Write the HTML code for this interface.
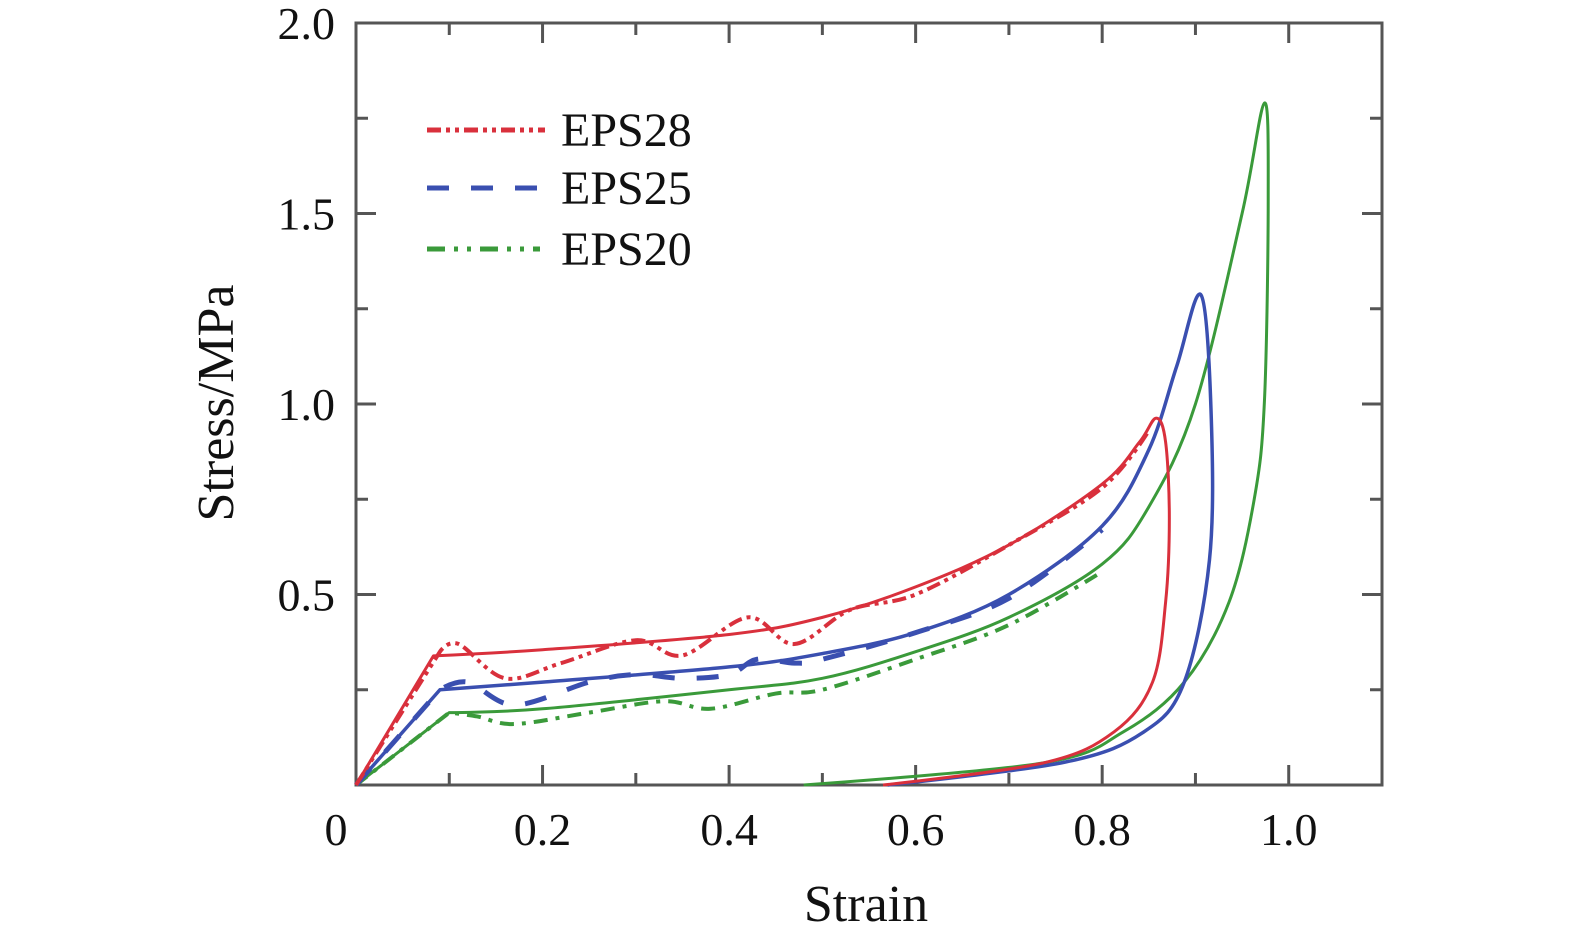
<!DOCTYPE html>
<html><head><meta charset="utf-8"><style>
html,body{margin:0;padding:0;background:#fff;overflow:hidden;width:1575px;height:947px;}
svg{display:block;font-family:"Liberation Serif",serif;}
</style></head><body>
<svg id="chart" width="1575" height="947" viewBox="0 0 1575 947" xmlns="http://www.w3.org/2000/svg">
<g id="axes"></g>
<g id="series"></g>
<text x="866" y="921" font-size="52" text-anchor="middle" fill="#111">Strain</text>
<text transform="translate(233,403) rotate(-90)" font-size="52" text-anchor="middle" fill="#111">Stress/MPa</text>
<g>
<line x1="427" y1="130" x2="545" y2="130" stroke="#d9303c" stroke-width="5" stroke-dasharray="14,5,4,5,4,5"/>
<text x="561" y="146" font-size="48" fill="#111">EPS28</text>
<line x1="427" y1="188" x2="545" y2="188" stroke="#3a4fb0" stroke-width="5" stroke-dasharray="22,22"/>
<text x="561" y="204" font-size="48" fill="#111">EPS25</text>
<line x1="427" y1="249" x2="540" y2="249" stroke="#3a9a3a" stroke-width="5" stroke-dasharray="18,9,4,9,4,9"/>
<text x="561" y="265" font-size="48" fill="#111">EPS20</text>
</g>
</svg>
<script>
const xTicks=[0,0.2,0.4,0.6,0.8,1.0];
const xTickLabels=["0","0.2","0.4","0.6","0.8","1.0"];
const yTicks=[0.5,1.0,1.5,2.0];
const yTickLabels=["0.5","1.0","1.5","2.0"];
const eps28Fit=[[0,0],[0.083,0.339],[0.2,0.355],[0.4,0.395],[0.5,0.44],[0.6,0.52],[0.7,0.63],[0.8,0.79],[0.84,0.9],[0.858,0.963],[0.868,0.9],[0.872,0.7],[0.868,0.48],[0.854,0.27],[0.813,0.14],[0.737,0.058],[0.565,0]];
const eps28Exp=[[0,0],[0.09,0.35],[0.11,0.37],[0.16,0.28],[0.22,0.32],[0.3,0.38],[0.35,0.34],[0.42,0.44],[0.47,0.37],[0.53,0.46],[0.6,0.5],[0.7,0.63],[0.8,0.78],[0.85,0.93]];
const eps25Fit=[[0,0],[0.09,0.25],[0.2,0.27],[0.4,0.31],[0.5,0.345],[0.6,0.4],[0.7,0.5],[0.8,0.68],[0.85,0.88],[0.88,1.1],[0.906,1.286],[0.917,0.96],[0.915,0.59],[0.888,0.27],[0.845,0.14],[0.76,0.06],[0.57,0]];
const eps25Exp=[[0,0],[0.09,0.25],[0.12,0.27],[0.17,0.21],[0.25,0.27],[0.3,0.29],[0.35,0.28],[0.4,0.29],[0.43,0.33],[0.47,0.32],[0.5,0.33],[0.6,0.4],[0.7,0.49],[0.8,0.67]];
const eps20Fit=[[0,0],[0.1,0.19],[0.2,0.2],[0.4,0.25],[0.5,0.28],[0.6,0.35],[0.7,0.44],[0.8,0.58],[0.85,0.73],[0.9,1.0],[0.95,1.5],[0.974,1.79],[0.978,1.54],[0.974,1.01],[0.963,0.75],[0.936,0.48],[0.888,0.27],[0.823,0.14],[0.737,0.058],[0.48,0]];
const eps20Exp=[[0,0],[0.1,0.19],[0.13,0.18],[0.17,0.16],[0.25,0.19],[0.33,0.22],[0.38,0.2],[0.45,0.24],[0.5,0.25],[0.6,0.33],[0.7,0.42],[0.8,0.56]];

const NS="http://www.w3.org/2000/svg";
const X0=356,X1=1382,Y0=785,Y1=23;
function sx(v){return X0+v*(X1-X0)/1.1;}
function sy(v){return Y0-v*(Y0-Y1)/2.0;}
function mk(t,a,parent){const e=document.createElementNS(NS,t);for(const k in a)e.setAttribute(k,a[k]);parent.appendChild(e);return e;}
const axes=document.getElementById('axes');
const frame=mk('rect',{x:X0,y:Y1,width:X1-X0,height:Y0-Y1,fill:'none',stroke:'#555',"stroke-width":3},axes);


for(let i=1;i<=10;i++){const v=i/10;const major=i%2===0;const L=major?20:12;
 const t1=mk('line',{x1:sx(v),y1:Y0,x2:sx(v),y2:Y0-L,stroke:'#555',"stroke-width":3},axes);
 
 
 const t2=mk('line',{x1:sx(v),y1:Y1,x2:sx(v),y2:Y1+L,stroke:'#555',"stroke-width":3},axes);
 
 }
for(let i=1;i<8;i++){const v=i*0.25;const major=i%2===0;const L=major?20:12;
 const t1=mk('line',{x1:X0,y1:sy(v),x2:X0+L,y2:sy(v),stroke:'#555',"stroke-width":3},axes);
 
 
 const t2=mk('line',{x1:X1,y1:sy(v),x2:X1-L,y2:sy(v),stroke:'#555',"stroke-width":3},axes);
 
 }
xTicks.forEach((v,i)=>{const t=mk('text',{x:sx(v)+(i===0?-20:0),y:845,"font-size":46,"text-anchor":"middle",fill:"#111"},axes);t.textContent=xTickLabels[i];
 
 });
yTicks.forEach((v,i)=>{const t=mk('text',{x:335,y:sy(v)+16,"font-size":46,"text-anchor":"end",fill:"#111"},axes);t.textContent=yTickLabels[i];
 
 });
function pathD(pts){const p=pts.map(d=>[sx(d[0]),sy(d[1])]);let d='M'+p[0][0]+','+p[0][1]+' L'+p[1][0]+','+p[1][1];
 for(let i=1;i<p.length-1;i++){const a=p[i-1],b=p[i],c=p[i+1],e=p[i+2]||c;const k=(i===1)?0:1/6,k2=(i===p.length-2)?0:1/6;
  d+=' C'+(b[0]+(c[0]-a[0])*k)+','+(b[1]+(c[1]-a[1])*k)+' '+(c[0]-(e[0]-b[0])*k2)+','+(c[1]-(e[1]-b[1])*k2)+' '+c[0]+','+c[1];}
 return d;}
const ser=document.getElementById('series');
function draw(pts,color,dash,name,w){const e=mk('path',{d:pathD(pts),fill:'none',stroke:color,"stroke-width":w,"stroke-linejoin":"round"},ser);if(dash)e.setAttribute('stroke-dasharray',dash);
 
 }
draw(eps20Exp,'#3a9a3a','14,8,4,8','eps20-experimental',4);
draw(eps20Fit,'#3a9a3a',null,'eps20-fit',3);
draw(eps25Exp,'#3a4fb0','22,22','eps25-experimental',5);
draw(eps25Fit,'#3a4fb0',null,'eps25-fit',3.5);
draw(eps28Exp,'#d9303c','14,5,4,5,4,5','eps28-experimental',4);
draw(eps28Fit,'#d9303c',null,'eps28-fit',3);
</script>
</body></html>
